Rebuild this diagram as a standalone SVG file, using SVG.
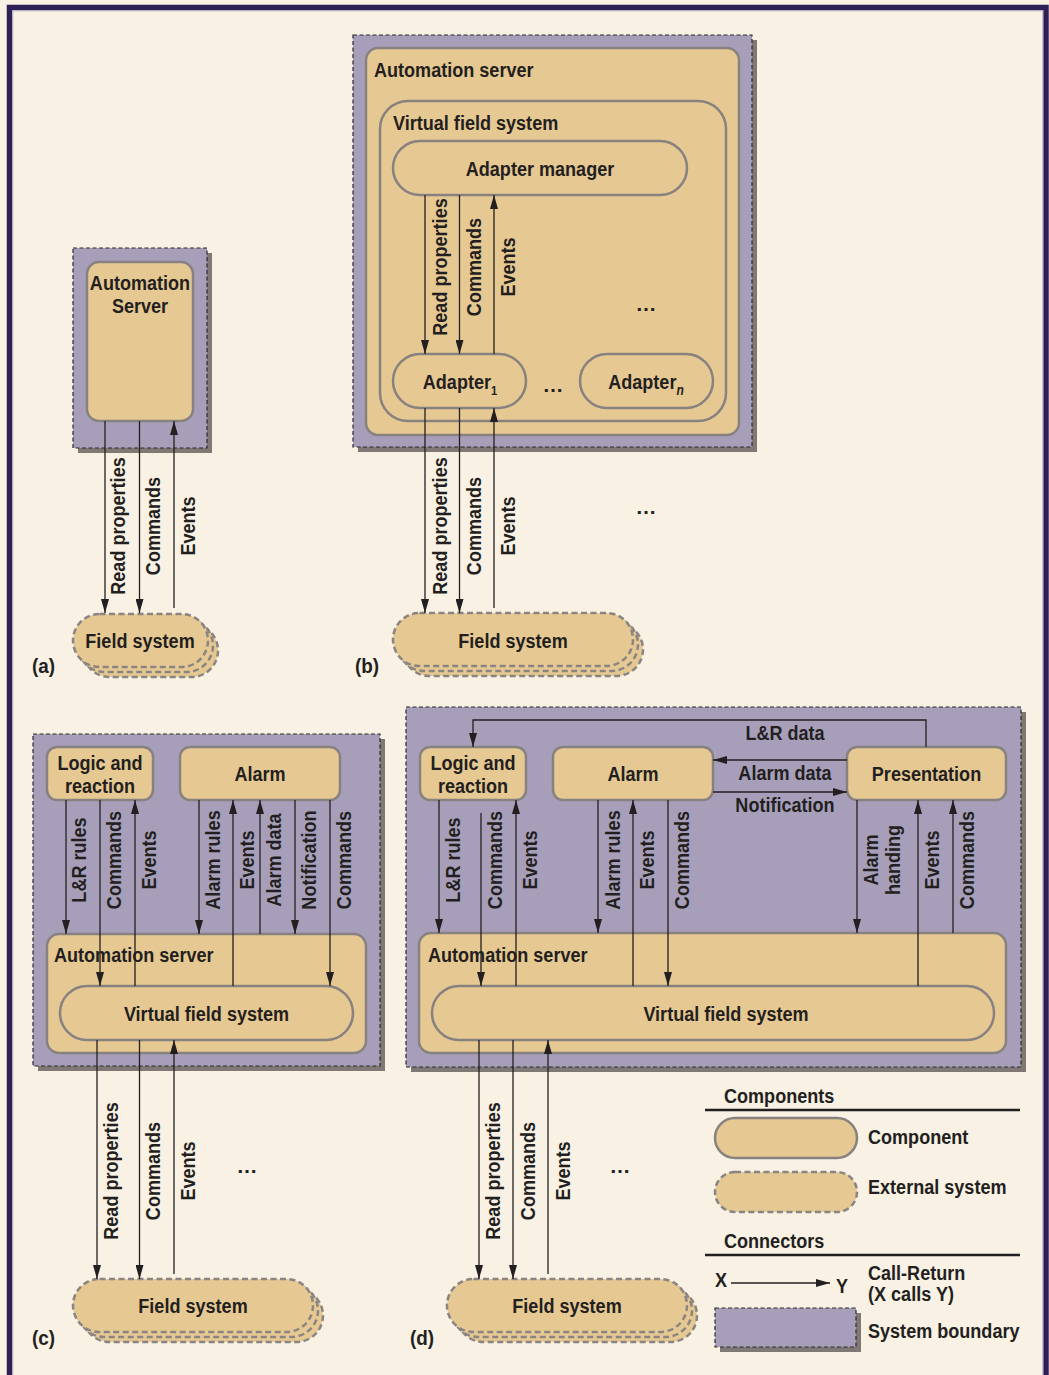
<svg xmlns="http://www.w3.org/2000/svg" width="1049" height="1375" viewBox="0 0 1049 1375">
<defs>
<style>
.t{font-family:'Liberation Sans',Arial,sans-serif;font-weight:bold;font-size:21px;fill:#231f20}
.m{text-anchor:middle}
.comp{fill:#e6c892;stroke:#878180;stroke-width:2.5}
.ext{fill:#e6c892;stroke:#8a8482;stroke-width:2.5;stroke-dasharray:6 3.5}
.bnd{fill:#a79fba;stroke:#2a2a2a;stroke-width:1.2;stroke-dasharray:4 2.5}
.shd{fill:#7f7875}
.ln{fill:none;stroke:#231f20;stroke-width:1.3;marker-end:url(#ah)}
</style>
<marker id="ah" markerUnits="userSpaceOnUse" markerWidth="14" markerHeight="8" refX="14" refY="4" orient="auto"><path d="M0,0 L14,4 L0,8 Z" fill="#231f20"/></marker>
</defs>
<rect x="0" y="0" width="1049" height="1375" fill="#f8f1e4"/>
<rect x="9.5" y="7.5" width="1036.5" height="1400" fill="none" stroke="#2e1f55" stroke-width="5.5"/>
<rect x="12.8" y="10.8" width="1030" height="1400" fill="none" stroke="#b8aecb" stroke-width="1"/>

<!-- Panel (a) -->
<g id="a-boundary"><rect class="shd" x="78" y="253" width="134" height="200"/><rect class="bnd" x="73" y="248" width="134" height="200"/></g>
<g id="a-automation-server"><rect class="comp" x="87" y="262" width="106" height="159" rx="12"/><text class="t m" transform="translate(140,290) scale(.86,1)">Automation</text><text class="t m" transform="translate(140,313) scale(.86,1)">Server</text></g>
<g id="a-field-system"><rect class="ext" x="83" y="624" width="135" height="53" rx="26.5"/><rect class="ext" x="78" y="619" width="135" height="53" rx="26.5"/><rect class="ext" x="73" y="614" width="135" height="53" rx="26.5"/><text class="t m" transform="translate(140,648) scale(.86,1)">Field system</text></g>
<text class="t" transform="translate(32,673) scale(.9,1)">(a)</text>

<!-- Panel (b) -->
<g id="b-boundary"><rect class="shd" x="358" y="40" width="399" height="412"/><rect class="bnd" x="353" y="35" width="399" height="412"/></g>
<g id="b-automation-server"><rect class="comp" x="366" y="48" width="373" height="387" rx="12"/><text class="t" transform="translate(374,77) scale(.86,1)">Automation server</text></g>
<g id="b-virtual-field-system"><rect class="comp" x="380" y="101" width="346" height="320" rx="28"/><text class="t" transform="translate(393,130) scale(.86,1)">Virtual field system</text></g>
<g id="b-adapter-manager"><rect class="comp" x="393" y="141" width="294" height="54" rx="27"/><text class="t m" transform="translate(540,176) scale(.86,1)">Adapter manager</text></g>
<g id="b-adapter-1"><rect class="comp" x="393" y="354" width="133" height="54" rx="27"/><text class="t m" transform="translate(460,389) scale(.86,1)">Adapter<tspan font-size="13" dy="6">1</tspan></text></g>
<g id="b-adapter-n"><rect class="comp" x="580" y="354" width="133" height="54" rx="27"/><text class="t m" transform="translate(646,389) scale(.86,1)">Adapter<tspan font-size="14" dy="6" font-style="italic">n</tspan></text></g>
<text class="t m" x="553" y="392">…</text>
<text class="t m" x="646" y="311">…</text>
<text class="t m" x="646" y="514">…</text>
<g id="b-field-system"><rect class="ext" x="403" y="623" width="240" height="53" rx="26.5"/><rect class="ext" x="398" y="618" width="240" height="53" rx="26.5"/><rect class="ext" x="393" y="613" width="240" height="53" rx="26.5"/><text class="t m" transform="translate(513,648) scale(.86,1)">Field system</text></g>
<text class="t" transform="translate(355,673) scale(.9,1)">(b)</text>

<!-- Panel (c) -->
<g id="c-boundary"><rect class="shd" x="38" y="739" width="347" height="332"/><rect class="bnd" x="33" y="734" width="347" height="332"/></g>
<g id="c-logic"><rect class="comp" x="47" y="747" width="106" height="53" rx="10"/><text class="t m" transform="translate(100,770) scale(.86,1)">Logic and</text><text class="t m" transform="translate(100,793) scale(.86,1)">reaction</text></g>
<g id="c-alarm"><rect class="comp" x="180" y="747" width="160" height="53" rx="10"/><text class="t m" transform="translate(260,781) scale(.86,1)">Alarm</text></g>
<g id="c-automation-server"><rect class="comp" x="47" y="934" width="319" height="119" rx="12"/><text class="t" transform="translate(54,962) scale(.86,1)">Automation server</text></g>
<g id="c-virtual-field-system"><rect class="comp" x="60" y="986" width="293" height="54" rx="27"/><text class="t m" transform="translate(206.5,1021) scale(.86,1)">Virtual field system</text></g>
<text class="t m" x="247" y="1173">…</text>
<g id="c-field-system"><rect class="ext" x="83" y="1289" width="240" height="53" rx="26.5"/><rect class="ext" x="78" y="1284" width="240" height="53" rx="26.5"/><rect class="ext" x="73" y="1279" width="240" height="53" rx="26.5"/><text class="t m" transform="translate(193,1313) scale(.86,1)">Field system</text></g>
<text class="t" transform="translate(32,1345) scale(.9,1)">(c)</text>

<!-- Panel (d) -->
<g id="d-boundary"><rect class="shd" x="411" y="712" width="615" height="360"/><rect class="bnd" x="406" y="707" width="615" height="360"/></g>
<g id="d-logic"><rect class="comp" x="420" y="747" width="106" height="53" rx="10"/><text class="t m" transform="translate(473,770) scale(.86,1)">Logic and</text><text class="t m" transform="translate(473,793) scale(.86,1)">reaction</text></g>
<g id="d-alarm"><rect class="comp" x="553" y="747" width="160" height="53" rx="10"/><text class="t m" transform="translate(633,781) scale(.86,1)">Alarm</text></g>
<g id="d-presentation"><rect class="comp" x="847" y="747" width="159" height="53" rx="10"/><text class="t m" transform="translate(926.5,781) scale(.86,1)">Presentation</text></g>
<g id="d-automation-server"><rect class="comp" x="419" y="933" width="587" height="120" rx="12"/><text class="t" transform="translate(428,962) scale(.86,1)">Automation server</text></g>
<g id="d-virtual-field-system"><rect class="comp" x="432" y="986" width="562" height="54" rx="27"/><text class="t m" transform="translate(726,1021) scale(.86,1)">Virtual field system</text></g>
<text class="t m" x="620" y="1173">…</text>
<g id="d-field-system"><rect class="ext" x="457" y="1289" width="240" height="53" rx="26.5"/><rect class="ext" x="452" y="1284" width="240" height="53" rx="26.5"/><rect class="ext" x="447" y="1279" width="240" height="53" rx="26.5"/><text class="t m" transform="translate(567,1313) scale(.86,1)">Field system</text></g>
<text class="t" transform="translate(410,1345) scale(.9,1)">(d)</text>

<!-- Connectors -->
<g id="connectors">
<path class="ln" d="M105,421V613"/><path class="ln" d="M139.5,421V613"/><path class="ln" d="M174,608V421"/>
<path class="ln" d="M425,195V354"/><path class="ln" d="M459.5,195V354"/><path class="ln" d="M494,354V195"/>
<path class="ln" d="M425,408V613"/><path class="ln" d="M459.5,408V613"/><path class="ln" d="M494,608V408"/>
<path class="ln" d="M66,800V934"/><path class="ln" d="M100,800V986"/><path class="ln" d="M135,986V800"/>
<path class="ln" d="M199,800V934"/><path class="ln" d="M233,986V800"/><path class="ln" d="M260,934V800"/>
<path class="ln" d="M295,800V934"/><path class="ln" d="M330,800V986"/>
<path class="ln" d="M97,1040V1279"/><path class="ln" d="M139.5,1040V1279"/><path class="ln" d="M174,1274V1040"/>
<path class="ln" d="M926,747V720H473V747"/>
<path class="ln" d="M847,760H713"/><path class="ln" d="M713,792H847"/>
<path class="ln" d="M439,800V933"/><path class="ln" d="M481,813V986"/><path class="ln" d="M516,986V800"/>
<path class="ln" d="M598,800V933"/><path class="ln" d="M633,986V800"/><path class="ln" d="M668,800V986"/>
<path class="ln" d="M857,800V933"/><path class="ln" d="M918,986V800"/><path class="ln" d="M953,933V800"/>
<path class="ln" d="M479,1040V1279"/><path class="ln" d="M513,1040V1279"/><path class="ln" d="M548,1274V1040"/>
</g>

<!-- Connector labels -->
<g id="connector-labels">
<text class="t m" transform="translate(125,526) rotate(-90) scale(.86,1)">Read properties</text>
<text class="t m" transform="translate(160,526) rotate(-90) scale(.86,1)">Commands</text>
<text class="t m" transform="translate(195,526) rotate(-90) scale(.86,1)">Events</text>
<text class="t m" transform="translate(447,267) rotate(-90) scale(.86,1)">Read properties</text>
<text class="t m" transform="translate(481,267) rotate(-90) scale(.86,1)">Commands</text>
<text class="t m" transform="translate(515,267) rotate(-90) scale(.86,1)">Events</text>
<text class="t m" transform="translate(447,526) rotate(-90) scale(.86,1)">Read properties</text>
<text class="t m" transform="translate(481,526) rotate(-90) scale(.86,1)">Commands</text>
<text class="t m" transform="translate(515,526) rotate(-90) scale(.86,1)">Events</text>
<text class="t m" transform="translate(86,860) rotate(-90) scale(.86,1)">L&amp;R rules</text>
<text class="t m" transform="translate(121,860) rotate(-90) scale(.86,1)">Commands</text>
<text class="t m" transform="translate(156,860) rotate(-90) scale(.86,1)">Events</text>
<text class="t m" transform="translate(220,860) rotate(-90) scale(.86,1)">Alarm rules</text>
<text class="t m" transform="translate(254,860) rotate(-90) scale(.86,1)">Events</text>
<text class="t m" transform="translate(281,860) rotate(-90) scale(.86,1)">Alarm data</text>
<text class="t m" transform="translate(316,860) rotate(-90) scale(.86,1)">Notification</text>
<text class="t m" transform="translate(351,860) rotate(-90) scale(.86,1)">Commands</text>
<text class="t m" transform="translate(118,1171) rotate(-90) scale(.86,1)">Read properties</text>
<text class="t m" transform="translate(160,1171) rotate(-90) scale(.86,1)">Commands</text>
<text class="t m" transform="translate(195,1171) rotate(-90) scale(.86,1)">Events</text>
<text class="t m" transform="translate(785,740) scale(.86,1)">L&amp;R data</text>
<text class="t m" transform="translate(785,780) scale(.86,1)">Alarm data</text>
<text class="t m" transform="translate(785,812) scale(.86,1)">Notification</text>
<text class="t m" transform="translate(460,860) rotate(-90) scale(.86,1)">L&amp;R rules</text>
<text class="t m" transform="translate(502,860) rotate(-90) scale(.86,1)">Commands</text>
<text class="t m" transform="translate(537,860) rotate(-90) scale(.86,1)">Events</text>
<text class="t m" transform="translate(620,860) rotate(-90) scale(.86,1)">Alarm rules</text>
<text class="t m" transform="translate(654,860) rotate(-90) scale(.86,1)">Events</text>
<text class="t m" transform="translate(689,860) rotate(-90) scale(.86,1)">Commands</text>
<text class="t m" transform="translate(878,860) rotate(-90) scale(.86,1)">Alarm</text>
<text class="t m" transform="translate(900,860) rotate(-90) scale(.86,1)">handing</text>
<text class="t m" transform="translate(939,860) rotate(-90) scale(.86,1)">Events</text>
<text class="t m" transform="translate(974,860) rotate(-90) scale(.86,1)">Commands</text>
<text class="t m" transform="translate(500,1171) rotate(-90) scale(.86,1)">Read properties</text>
<text class="t m" transform="translate(535,1171) rotate(-90) scale(.86,1)">Commands</text>
<text class="t m" transform="translate(570,1171) rotate(-90) scale(.86,1)">Events</text>
</g>

<!-- Legend -->
<g id="legend">
<text class="t" transform="translate(724,1103) scale(.86,1)">Components</text>
<line x1="705" y1="1110" x2="1020" y2="1110" stroke="#231f20" stroke-width="2.5"/>
<rect class="comp" x="715" y="1118" width="142" height="40" rx="20"/>
<text class="t" transform="translate(868,1144) scale(.86,1)">Component</text>
<rect class="ext" x="715" y="1172" width="142" height="40" rx="20"/>
<text class="t" transform="translate(868,1194) scale(.86,1)">External system</text>
<text class="t" transform="translate(724,1248) scale(.86,1)">Connectors</text>
<line x1="705" y1="1255" x2="1020" y2="1255" stroke="#231f20" stroke-width="2.5"/>
<text class="t" transform="translate(715,1287) scale(.86,1)">X</text>
<path class="ln" d="M731,1283H830"/>
<text class="t" transform="translate(836,1293) scale(.86,1)">Y</text>
<text class="t" transform="translate(868,1280) scale(.86,1)">Call-Return</text>
<text class="t" transform="translate(868,1301) scale(.86,1)">(X calls Y)</text>
<rect class="shd" x="720" y="1313" width="141" height="39"/>
<rect class="bnd" x="715" y="1308" width="141" height="39"/>
<text class="t" transform="translate(868,1338) scale(.86,1)">System boundary</text>
</g>
</svg>
